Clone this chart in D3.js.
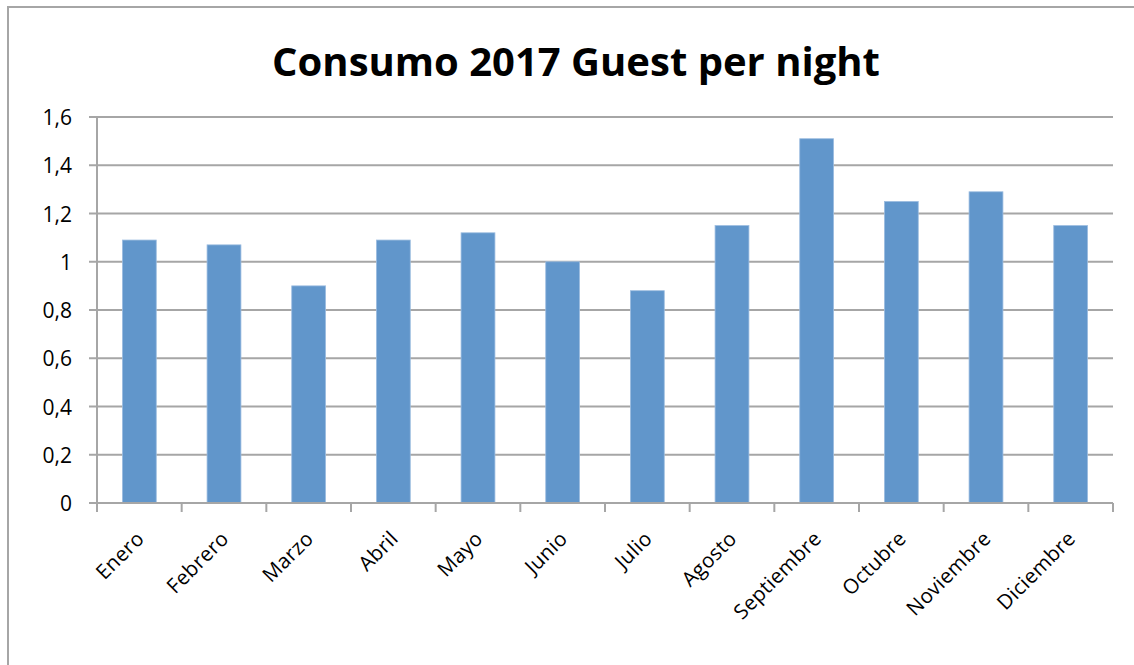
<!DOCTYPE html>
<html>
<head>
<meta charset="utf-8"/>
<title>Consumo 2017</title>
<style>
body { margin: 0; background: #fff; }
svg { display: block; font-family: 'Open Sans', sans-serif; }
</style>
</head>
<body>
<svg width="1134" height="665"></svg>
<script src="https://d3js.org/d3.v7.min.js"></script>
<script>

var months = ["Enero", "Febrero", "Marzo", "Abril", "Mayo", "Junio", "Julio",
              "Agosto", "Septiembre", "Octubre", "Noviembre", "Diciembre"];
var values = [1.09, 1.07, 0.9, 1.09, 1.12, 1.0, 0.88, 1.15, 1.51, 1.25, 1.29, 1.15];
var yTicks = [0, 0.2, 0.4, 0.6, 0.8, 1, 1.2, 1.4, 1.6];

var svg = d3.select("svg"),
    plotLeft = 97, plotRight = 1113, plotTop = 117, plotBottom = 503;

// chart frame
svg.append("rect")
    .attr("x", 8).attr("y", 7)
    .attr("width", 1200).attr("height", 700)
    .attr("fill", "none")
    .attr("stroke", "#a6a6a6")
    .attr("stroke-width", 2);

svg.append("text")
    .attr("x", 576).attr("y", 76)
    .attr("text-anchor", "middle")
    .attr("font-size", 40)
    .attr("font-weight", "bold")
    .text("Consumo 2017 Guest per night");

var x = d3.scaleBand()
    .domain(months)
    .range([plotLeft, plotRight])
    .paddingInner(0.6)
    .paddingOuter(0.3);

var y = d3.scaleLinear()
    .domain([0, 1.6])
    .range([plotBottom, plotTop]);

var fmt = function(d) { return String(d).replace(".", ","); };

// gridlines
svg.append("g").selectAll("line")
  .data(yTicks)
  .enter().append("line")
    .attr("x1", plotLeft - 8).attr("x2", plotRight)
    .attr("y1", function(d) { return y(d); })
    .attr("y2", function(d) { return y(d); })
    .attr("stroke", "#a6a6a6")
    .attr("stroke-width", 2);

svg.append("g").selectAll("text")
  .data(yTicks)
  .enter().append("text")
    .attr("x", 72)
    .attr("y", function(d) { return y(d) + 8; })
    .attr("text-anchor", "end")
    .attr("font-size", 21)
    .text(fmt);

// bars
svg.append("g").selectAll("rect")
  .data(values)
  .enter().append("rect")
    .attr("x", function(d, i) { return x(months[i]); })
    .attr("y", function(d) { return y(d); })
    .attr("width", x.bandwidth())
    .attr("height", function(d) { return plotBottom - y(d); })
    .attr("fill", "#6196cb")
    .attr("stroke", "#9dbde0")
    .attr("stroke-width", 0.8);

// axes lines
svg.append("line")
    .attr("x1", plotLeft).attr("x2", plotLeft)
    .attr("y1", plotTop).attr("y2", plotBottom)
    .attr("stroke", "#a6a6a6").attr("stroke-width", 2);

svg.append("line")
    .attr("x1", plotLeft - 8).attr("x2", plotRight)
    .attr("y1", plotBottom).attr("y2", plotBottom)
    .attr("stroke", "#a6a6a6").attr("stroke-width", 2);

var step = x.step();
svg.append("g").selectAll("line")
  .data(d3.range(months.length + 1))
  .enter().append("line")
    .attr("x1", function(i) { return plotLeft + i * step; })
    .attr("x2", function(i) { return plotLeft + i * step; })
    .attr("y1", plotBottom).attr("y2", plotBottom + 9)
    .attr("stroke", "#a6a6a6").attr("stroke-width", 2);

// month labels
svg.append("g").selectAll("text")
  .data(months)
  .enter().append("text")
    .attr("transform", function(d) {
      return "translate(" + (x(d) + x.bandwidth() / 2 + 6) + "," + (plotBottom + 37) + ") rotate(-45)";
    })
    .attr("text-anchor", "end")
    .attr("font-size", 20.5)
    .attr("letter-spacing", 0.3)
    .text(function(d) { return d; });

</script>
</body>
</html>
